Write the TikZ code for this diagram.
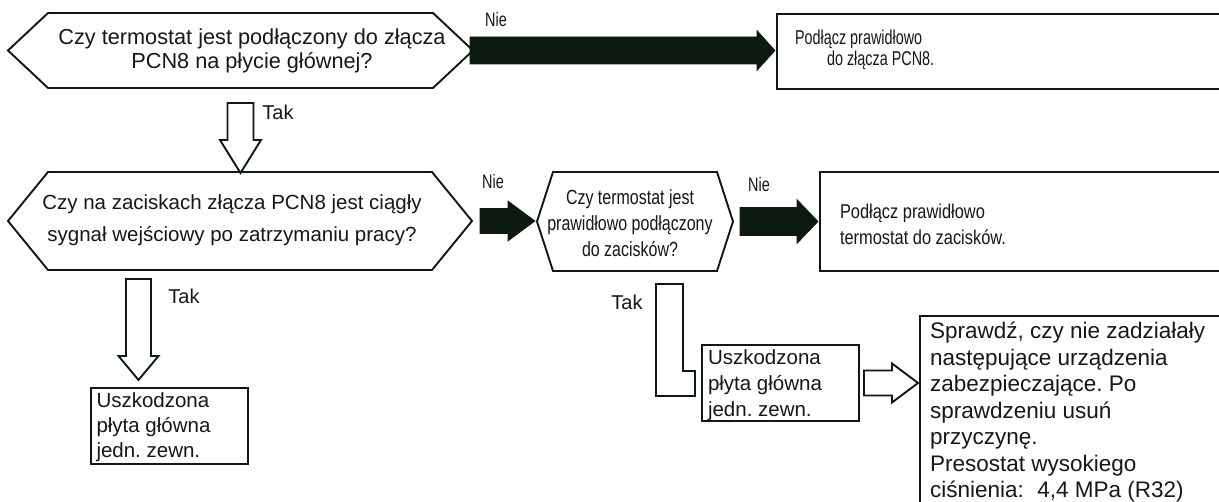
\documentclass[tikz,border=0pt]{standalone}
\usepackage{fontspec}
\setmainfont{Liberation Sans}
\newfontfamily\condA{Liberation Sans}[FakeStretch=0.78]
\newfontfamily\condB{Liberation Sans}[FakeStretch=0.82]
\newfontfamily\condC{Liberation Sans}[FakeStretch=0.72]
\newfontfamily\condD{Liberation Sans}[FakeStretch=0.74]
\usetikzlibrary{calc}
\definecolor{ink}{RGB}{12,26,16}
\definecolor{txtc}{RGB}{20,24,24}

% hexagonal decision outline drawn around a plain rectangular node
\newcommand\hexoutline[2]{%
  \draw[hexline] (#1.west) -- ($(#1.north west)+(#2,0)$) -- ($(#1.north east)+(-#2,0)$)
    -- (#1.east) -- ($(#1.south east)+(-#2,0)$) -- ($(#1.south west)+(#2,0)$) -- cycle;}
% block arrow to the right: style, from, to, shaft half-height, head half-height, head length
\newcommand\rightblock[6]{%
  \draw[#1] let \p1=#2, \p2=#3 in
    (\x1,\y1+#4) -- (\x2-#6,\y1+#4) -- (\x2-#6,\y1+#5) -- (\x2,\y1)
    -- (\x2-#6,\y1-#5) -- (\x2-#6,\y1-#4) -- (\x1,\y1-#4) -- cycle;}
% block arrow downwards: style, from, to, shaft half-width, head half-width, head length
\newcommand\downblock[6]{%
  \draw[#1] let \p1=#2, \p2=#3 in
    (\x1-#4,\y1) -- (\x1+#4,\y1) -- (\x1+#4,\y2+#6) -- (\x1+#5,\y2+#6) -- (\x1,\y2)
    -- (\x1-#5,\y2+#6) -- (\x1-#4,\y2+#6) -- cycle;}

\tikzset{
  frame/.style={rectangle, inner sep=0pt, outer sep=0pt},
  box/.style={frame, draw=ink, line width=1.9pt, fill=white},
  hexline/.style={draw=ink, line width=1.9pt, line join=miter},
  solidarrow/.style={fill=ink, draw=ink, line width=0.6pt, line join=miter},
  hollowarrow/.style={fill=white, draw=ink, line width=1.9pt, line join=miter},
  txt/.style={text=txtc, inner sep=0pt, outer sep=0pt},
  qtext/.style={txt, align=center, anchor=north},
  ltext/.style={txt, align=left, anchor=north west},
  nielabel/.style={txt, font=\condD\fontsize{19.5pt}{19.5pt}\selectfont},
  taklabel/.style={txt, font=\fontsize{20pt}{20pt}\selectfont},
}

\begin{document}
\frenchspacing
\begin{tikzpicture}[x=1pt, y=-1pt]
\useasboundingbox (0,0) rectangle (1219,502);
\fill[white] (0,0) rectangle (1219,502);
\clip (0,0) rectangle (1219,502);

% decision frames
\node[frame, minimum width=465pt, minimum height=75pt] (h1) at (240.5,50.5) {};
\node[frame, minimum width=464pt, minimum height=98pt] (h2) at (240,221) {};
\node[frame, minimum width=196pt, minimum height=99pt] (h3) at (635,221.5) {};
\hexoutline{h1}{40}
\hexoutline{h2}{40}
\hexoutline{h3}{16}

% action boxes
\node[box, minimum width=453pt, minimum height=75pt] (b1) at (1003.5,51.5) {};
\node[box, minimum width=410pt, minimum height=99pt] (b3) at (1025,221.5) {};
\node[box, minimum width=157pt, minimum height=76pt] (u1) at (169.5,426) {};
\node[box, minimum width=157pt, minimum height=76pt] (u2) at (780.5,383) {};
\node[box, minimum width=310pt, minimum height=214pt] (big) at (1075,423) {};

% texts
\node[qtext, font=\fontsize{21.7pt}{24pt}\selectfont] (t1) at (252,28.5)
  {Czy termostat jest podłączony do złącza\\PCN8 na płycie głównej?};
\node[qtext, font=\fontsize{20.5pt}{32pt}\selectfont] (t2) at (232,195)
  {Czy na zaciskach złącza PCN8 jest ciągły\\sygnał wejściowy po zatrzymaniu pracy?};
\node[qtext, font=\condA\fontsize{20.5pt}{26pt}\selectfont] (t3) at (630,190)
  {Czy termostat jest\\prawidłowo podłączony\\do zacisków?};
\node[ltext, font=\condC\fontsize{20pt}{21pt}\selectfont] (tb1) at (795,30)
  {Podłącz prawidłowo\\\hspace*{32pt}do złącza PCN8.};
\node[ltext, font=\condB\fontsize{20pt}{26.5pt}\selectfont] (tb3) at (840,204)
  {Podłącz prawidłowo\\termostat do zacisków.};
\node[ltext, font=\fontsize{20.5pt}{25pt}\selectfont] (tu1) at (96.5,393)
  {Uszkodzona\\płyta główna\\jedn. zewn.};
\node[ltext, font=\fontsize{20.5pt}{25.7pt}\selectfont] (tu2) at (708,350)
  {Uszkodzona\\płyta główna\\jedn. zewn.};
\node[ltext, font=\fontsize{22.5pt}{26.5pt}\selectfont] (tbig) at (930,322)
  {Sprawdź, czy nie zadziałały\\następujące urządzenia\\zabezpieczające. Po\\sprawdzeniu usuń\\przyczynę.\\Presostat wysokiego\\ciśnienia:\hspace{0.6em}4,4 MPa (R32)};

% connectors
\rightblock{solidarrow}{($(h1.east)+(-3,0)$)}{($(b1.west)+(-2,0)$)}{13.5pt}{20pt}{18pt}
\rightblock{solidarrow}{($(h2.east)+(8,0)$)}{($(h3.west)+(-2,0)$)}{12.5pt}{20pt}{27pt}
\rightblock{solidarrow}{($(h3.east)+(7,0)$)}{($(b3.west)+(-2,0)$)}{14pt}{22pt}{21pt}
\rightblock{hollowarrow}{($(u2.east)+(5,0)$)}{($(big.west)+(-2,0)$)}{12.5pt}{19.5pt}{26pt}
\downblock{hollowarrow}{($(h1.south)+(0,15)$)}{($(h2.north)+(0,1)$)}{13pt}{20.5pt}{33pt}
\downblock{hollowarrow}{($(h2.south west)+(130.5,9)$)}{($(u1.north)+(0,-8)$)}{12.5pt}{20pt}{24pt}
\draw[hollowarrow] ($(u2.west)+(-46,-99)$) -- ++(27,0) -- ++(0,87) -- ++(12,0)
  -- ++(0,25) -- ++(-39,0) -- cycle;

% branch labels
\node[nielabel] (n1) at (496,19.5) {Nie};
\node[nielabel] (n2) at (493,182) {Nie};
\node[nielabel] (n3) at (759,185) {Nie};
\node[taklabel] (k1) at (278,112) {Tak};
\node[taklabel] (k2) at (184,296) {Tak};
\node[taklabel] (k3) at (627,302) {Tak};
\end{tikzpicture}
\end{document}
